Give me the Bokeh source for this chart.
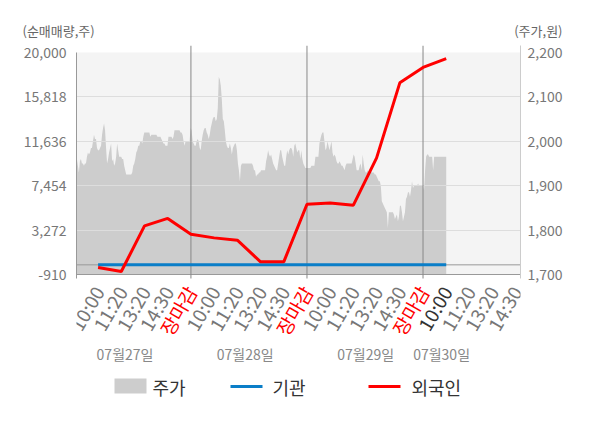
import numpy as np
from bokeh.plotting import figure
from bokeh.models import Range1d, LinearAxis, FixedTicker, NumeralTickFormatter
from bokeh.layouts import column
from bokeh.embed import file_html
from bokeh.resources import INLINE
from bokeh.core.properties import value

FONT = "Noto Sans CJK KR"

# ---------------- data ----------------
time_labels = ["10:00", "11:20", "13:20", "14:30", "장마감"] * 3 + ["10:00", "11:20", "13:20", "14:30"]
date_labels = ["07월27일", "07월28일", "07월29일", "07월30일"]
series_names = ["주가", "기관", "외국인"]
axis_titles = ["(순매매량,주)", "(주가,원)"]

# 외국인 net purchase (shares), one value per label slot (slots 1..16)
foreign_net = [-250, -630, 3670, 4370, 2880, 2540, 2320, 280, 280,
               5710, 5830, 5620, 10070, 17140, 18590, 19430]
# 기관 net purchase (shares)
institution_net = [0, 0, 0, 0, 0, 0, 0, 0, 0, 0, 0, 0, 0, 0, 0, 0]

# 주가 (won), intraday series from 07/27 open to 07/30 10:00
price = [
    1920, 1945, 1960, 1945, 1930, 1955, 1960, 1950, 1950, 1945,
    1950, 1950, 1965, 1975, 1970, 1975, 1985, 1985, 2000, 2015,
    2005, 2005, 1985, 1980, 1980, 1985, 1990, 2015, 2030, 2040,
    2025, 1985, 1950, 1960, 1975, 1985, 1995, 1955, 1960, 1945,
    1950, 1965, 1995, 1980, 1965, 1965, 1965, 1960, 1960, 1945,
    1935, 1925, 1925, 1925, 1925, 1925, 1925, 1930, 1945, 1950,
    1960, 1975, 1980, 1990, 1990, 2000, 2000, 1995, 2010, 2020,
    2020, 2020, 2020, 2020, 2020, 2010, 2015, 2015, 2015, 2015,
    2015, 2015, 2010, 2010, 2010, 2010, 2005, 2000, 1995, 1995,
    1990, 1990, 1990, 2010, 2010, 2010, 2010, 2005, 2010, 2025,
    2025, 2025, 2025, 2025, 2025, 2020, 2020, 2015, 2000, 1990,
    2000, 2000, 2000, 2000, 2000, 2030, 2025, 2000, 1995, 1990,
    1990, 2000, 2005, 2000, 1985, 1980, 2000, 2015, 2025, 2030,
    2030, 2020, 2015, 2005, 2015, 2030, 2040, 2050, 2055, 2055,
    2045, 2050, 2075, 2145, 2140, 2125, 2095, 2050, 2045, 2025,
    2000, 1990, 1985, 1985, 1995, 1985, 1970, 1985, 1990, 1995,
    1995, 1980, 1950, 1935, 1910, 1945, 1950, 1950, 1950, 1950,
    1950, 1950, 1950, 1950, 1950, 1950, 1950, 1945, 1935, 1935,
    1920, 1925, 1925, 1930, 1930, 1935, 1935, 1935, 1935, 1935,
    1955, 1965, 1980, 1970, 1965, 1970, 1960, 1950, 1945, 1940,
    1935, 1935, 1950, 1965, 1980, 1980, 1965, 1955, 1945, 1945,
    1965, 1980, 1970, 1980, 1985, 1985, 1980, 1965, 1990, 1995,
    1985, 1975, 1980, 1980, 1960, 1980, 1960, 1950, 1945, 1940,
    1940, 1940, 1940, 1940, 1940, 1945, 1945, 1945, 1945, 1965,
    1965, 1965, 1965, 1995, 2005, 2015, 2020, 2020, 2000, 1980,
    1985, 2000, 1990, 1980, 1990, 2000, 1975, 1965, 1970, 1965,
    1955, 1950, 1950, 1955, 1950, 1945, 1945, 1940, 1935, 1945,
    1950, 1950, 1950, 1950, 1950, 1950, 1960, 1970, 1965, 1950,
    1935, 1935, 1935, 1945, 1950, 1935, 1970, 1950, 1935, 1930,
    1930, 1935, 1930, 1935, 1935, 1930, 1930, 1930, 1925, 1925,
    1920, 1915, 1910, 1910, 1900, 1865, 1860, 1855, 1850, 1845,
    1840, 1805, 1840, 1840, 1840, 1840, 1840, 1835, 1825, 1830,
    1835, 1820, 1830, 1855, 1855, 1840, 1820, 1830, 1840, 1870,
    1875, 1885, 1885, 1875, 1890, 1910, 1895, 1900, 1900, 1900,
    1900, 1905, 1900, 1900, 1900, 1900, 1900, 1890, 1935, 1965,
    1970, 1970, 1965, 1965, 1965, 1965, 1935, 1965, 1965, 1965,
    1965, 1965, 1965, 1965, 1965, 1965, 1965, 1965, 1965, 1965,
]

vol_ticks = [-910, 3272, 7454, 11636, 15818, 20000]
price_ticks = [1700, 1800, 1900, 2000, 2100, 2200]

# ---------------- layout (page pixels) ----------------
W = 600
TOP_H = 41          # title strip
MAIN_TOP_PAD = 4    # frame of main plot starts at page y 45
MAIN_H = 325        # main plot (page 41..366)
LEG_H = 52          # legend strip
PLOT_TOP_PX, PLOT_BOT_PX = 52, 274   # where VOL_MAX / VOL_MIN sit on the page
FRAME_TOP, FRAME_BOT = TOP_H + MAIN_TOP_PAD, TOP_H + MAIN_H
LINE_TOP, LINE_BOT = 45, 278

VOL_MIN, VOL_MAX = vol_ticks[0], vol_ticks[-1]
P_MIN, P_MAX = price_ticks[0], price_ticks[-1]
u = (VOL_MAX - VOL_MIN) / (PLOT_BOT_PX - PLOT_TOP_PX)
pu = (P_MAX - P_MIN) / (PLOT_BOT_PX - PLOT_TOP_PX)


def vol_at(py):
    return VOL_MIN + (PLOT_BOT_PX - py) * u


def price_at(py):
    return P_MIN + (PLOT_BOT_PX - py) * pu


def no_align(fig):
    try:
        fig.frame_align = False
    except Exception:
        pass


x_lo, x_hi = 0.07, 19.2
n_slots_per_day = 5

# ---------------- title strip ----------------
top = figure(width=W, height=TOP_H, x_range=Range1d(0, W), y_range=Range1d(TOP_H, 0),
             output_backend="svg", toolbar_location=None,
             x_axis_location=None, y_axis_location=None,
             min_border=0, min_border_left=0, min_border_right=0,
             min_border_top=0, min_border_bottom=0)
no_align(top)
top.grid.visible = False
top.outline_line_color = None
top.text(x=[22], y=[30], text=[axis_titles[0]], text_align="left", text_baseline="middle",
         text_font=value(FONT), text_font_size=value("13px"), text_color="#666666")
top.text(x=[562], y=[30], text=[axis_titles[1]], text_align="right", text_baseline="middle",
         text_font=value(FONT), text_font_size=value("13px"), text_color="#666666")

# ---------------- main plot ----------------
p = figure(width=W, height=MAIN_H,
           x_range=Range1d(x_lo, x_hi),
           y_range=Range1d(vol_at(FRAME_BOT), vol_at(FRAME_TOP)),
           output_backend="svg", toolbar_location=None,
           min_border_left=76, min_border_right=W - 520,
           min_border_top=MAIN_TOP_PAD, min_border_bottom=0)
no_align(p)
p.extra_y_ranges = {"price": Range1d(price_at(FRAME_BOT), price_at(FRAME_TOP))}
p.xaxis.visible = False
p.grid.visible = False
p.outline_line_color = None
p.background_fill_color = "white"
p.border_fill_color = "white"

ya = p.yaxis[0]
ya.ticker = FixedTicker(ticks=vol_ticks)
ya.formatter = NumeralTickFormatter(format="0,0")
ya.bounds = (vol_at(LINE_BOT), VOL_MAX)
ya.axis_line_color = "#999999"
ya.major_tick_out = 0
ya.major_tick_in = 0
ya.minor_tick_out = 0
ya.minor_tick_in = 0
ya.major_label_standoff = 10
ya.major_label_text_font = FONT
ya.major_label_text_font_size = "14px"
ya.major_label_text_color = "#777777"

ra = LinearAxis(y_range_name="price", ticker=FixedTicker(ticks=price_ticks),
                formatter=NumeralTickFormatter(format="0,0"))
ra.bounds = (price_at(LINE_BOT), price_at(LINE_TOP))
ra.axis_line_color = "#cccccc"
ra.major_tick_out = 0
ra.major_tick_in = 0
ra.minor_tick_out = 0
ra.minor_tick_in = 0
ra.major_label_standoff = 7
ra.major_label_text_font = FONT
ra.major_label_text_font_size = "14px"
ra.major_label_text_color = "#777777"
p.add_layout(ra, "right")

# plot background
p.quad(left=x_lo, right=x_hi, bottom=VOL_MIN, top=VOL_MAX,
       fill_color="#f4f4f4", line_color=None)

# price area
px = np.linspace(0, len(foreign_net), len(price))
p.varea(x=px, y1=P_MIN, y2=price, y_range_name="price", fill_color="#cdcdcd")

# grid lines
p.hspan(y=vol_ticks[1:-1], line_color="#dddddd", line_width=1)
p.segment(x0=[x_lo], y0=[VOL_MIN], x1=[x_hi], y1=[VOL_MIN], line_color="#999999", line_width=1)
day_bounds = [n_slots_per_day * (d + 1) for d in range(3)]
p.segment(x0=day_bounds, y0=[vol_at(LINE_BOT)] * 3, x1=day_bounds, y1=[vol_at(LINE_TOP)] * 3,
          line_color="#888888", line_width=1)
p.segment(x0=[x_lo], y0=[0], x1=[x_hi], y1=[0], line_color="#999999", line_width=1)

# net purchase lines
lx = np.arange(1, len(foreign_net) + 1)
p.line(lx, institution_net, line_color="#0a7ec8", line_width=3)
p.line(lx, foreign_net, line_color="#ff0000", line_width=3)

# x tick labels (rotated)
highlight = len(time_labels) - 4
label_colors = []
for i, t in enumerate(time_labels):
    if t == "장마감":
        label_colors.append("#ff0000")
    elif i == highlight:
        label_colors.append("#333333")
    else:
        label_colors.append("#777777")
p.text(x=list(range(1, len(time_labels) + 1)), y=[vol_at(287)] * len(time_labels),
       text=time_labels, angle=60, angle_units="deg",
       text_align="right", text_baseline="middle",
       text_font=value(FONT), text_font_size=value("19px"), text_color=label_colors)

# date labels
date_pos = [2.16, 7.34, 12.53, 15.8]
p.text(x=date_pos, y=[vol_at(353)] * len(date_pos), text=date_labels,
       text_align="center", text_baseline="middle",
       text_font=value(FONT), text_font_size=value("14px"), text_color="#888888")

# ---------------- legend strip ----------------
lg = figure(width=W, height=LEG_H, x_range=Range1d(0, W), y_range=Range1d(LEG_H, 0),
            output_backend="svg", toolbar_location=None,
            x_axis_location=None, y_axis_location=None,
            min_border=0, min_border_left=0, min_border_right=0,
            min_border_top=0, min_border_bottom=0)
no_align(lg)
lg.grid.visible = False
lg.outline_line_color = None
ly = 386 - FRAME_BOT
lg.quad(left=114, right=146, top=ly - 8, bottom=ly + 7, fill_color="#cdcdcd", line_color=None)
lg.line([230, 262], [ly, ly], line_color="#0a7ec8", line_width=3)
lg.line([368, 400], [ly, ly], line_color="#ff0000", line_width=3)
lg.text(x=[152, 272, 411], y=[ly] * 3, text=series_names,
        text_font=value(FONT), text_font_size=value("18px"),
        text_baseline="middle", text_align="left", text_color="#333333")

layout = column(top, p, lg, spacing=0)
open("out.html", "w").write(file_html(layout, INLINE))
